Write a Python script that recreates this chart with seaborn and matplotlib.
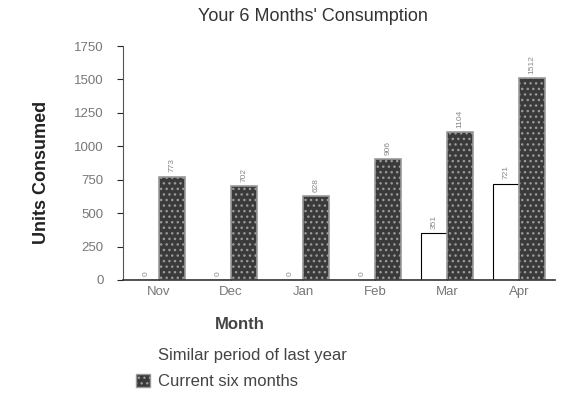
import pandas as pd
import matplotlib
matplotlib.use("Agg")
import matplotlib.pyplot as plt
import matplotlib.patches as mpatches
import seaborn as sns

# values
months = ['Nov', 'Dec', 'Jan', 'Feb', 'Mar', 'Apr']
last_year = [0, 0, 0, 0, 351, 721]
current = [773, 702, 628, 906, 1104, 1512]
series = ['Similar period of last year', 'Current six months']

df = pd.DataFrame({
    'month': months * 2,
    'units': last_year + current,
    'period': [series[0]] * 6 + [series[1]] * 6,
})

sns.set_style('white')
plt.rcParams['font.family'] = ['Liberation Sans', 'DejaVu Sans']

fig = plt.figure(figsize=(5.64, 4.04), dpi=100)
ax = fig.add_axes([0.218, 0.307, 0.766, 0.579])

sns.barplot(data=df, x='month', y='units', hue='period', order=months,
            hue_order=series, palette=['white', '#3a3a3a'], width=0.72,
            edgecolor='black', linewidth=0.8, legend=False, ax=ax)

# grey edge + stipple for the current bars
for bar in ax.containers[1]:
    bar.set_edgecolor('#999999')
    bar.set_linewidth(1.2)
    bar.set_hatch('...')

# rotated value labels above the bars
for cont in ax.containers:
    ax.bar_label(cont, labels=[str(int(b.get_height())) for b in cont],
                 rotation=90, fontsize=6, color='#888888', padding=3)

ax.set_ylim(0, 1750)
ax.set_yticks(range(0, 1751, 250))
ax.tick_params(axis='y', labelsize=9.5, labelcolor='#777777', length=4, pad=10,
               direction='out', left=True)
ax.tick_params(axis='x', labelsize=9.5, labelcolor='#777777', length=3, pad=4,
               direction='in', bottom=True)
sns.despine(ax=ax)
ax.spines['left'].set_color('#555555')
ax.spines['bottom'].set_color('#333333')
ax.spines['bottom'].set_linewidth(1.2)

ax.set_xlabel('Month', fontsize=12, fontweight='bold', color='#444444')
ax.xaxis.set_label_coords(0.27, -0.16)
ax.set_ylabel('Units Consumed', fontsize=13, fontweight='bold', color='#222222')
ax.yaxis.set_label_coords(-0.17, 0.46)

fig.text(0.555, 0.948, "Your 6 Months' Consumption", ha='center', fontsize=13, color='#333333')

handles = [mpatches.Patch(facecolor='white', edgecolor='white'),
           mpatches.Patch(facecolor='#3a3a3a', edgecolor='#999999', hatch='...')]
fig.legend(handles, series, loc='upper left', bbox_to_anchor=(0.215, 0.175),
           frameon=False, fontsize=12, handlelength=0.8, handleheight=0.8,
           labelspacing=0.65, handletextpad=0.5, labelcolor='#444444')

fig.savefig('out.png', dpi=100)
